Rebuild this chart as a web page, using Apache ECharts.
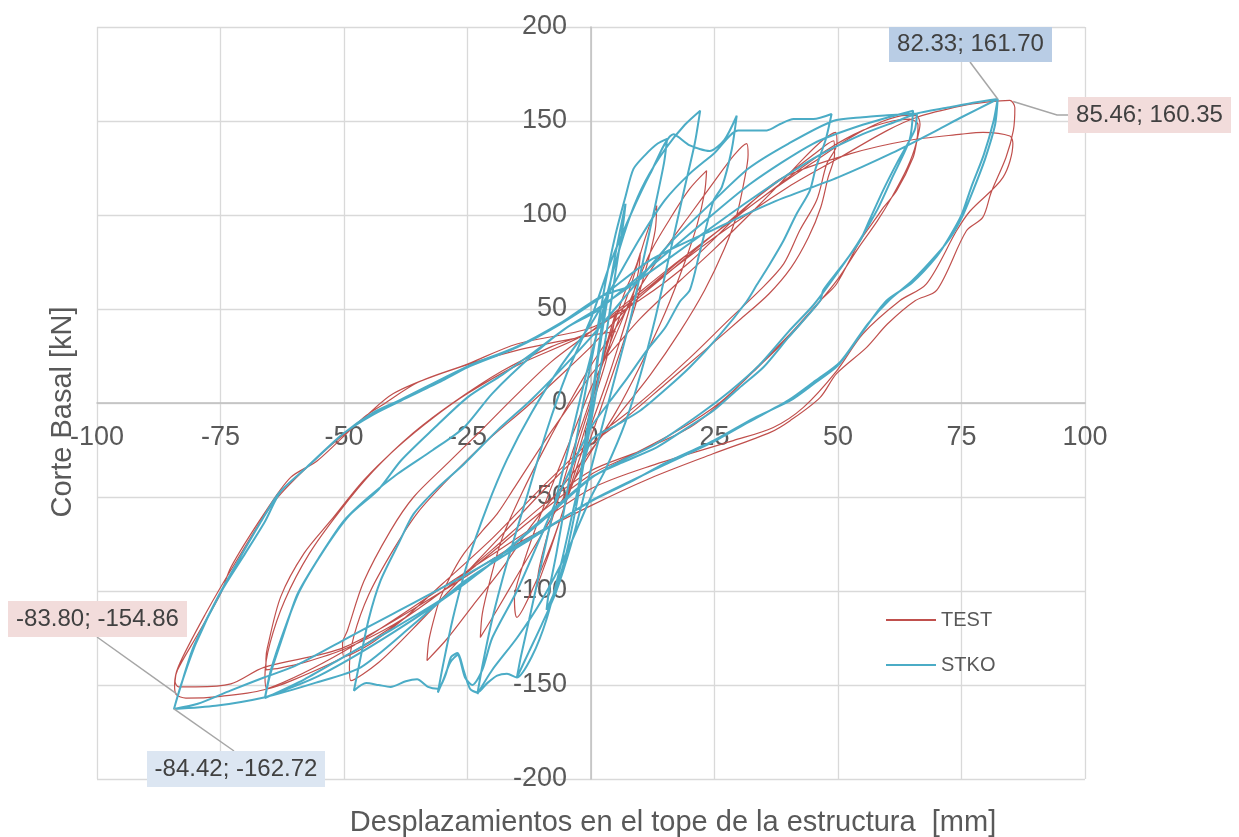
<!DOCTYPE html>
<html><head><meta charset="utf-8">
<script src="https://cdn.jsdelivr.net/npm/echarts@6/dist/echarts.min.js"></script>
<style>html,body{margin:0;padding:0;background:#fff}#c{width:1239px;height:837px}</style>
</head><body><div id="c"></div>
<script>
// ---------- DATA ----------
var xTicks = [-100,-75,-50,-25,0,25,50,75,100];
var yTicks = [-200,-150,-100,-50,0,50,100,150,200];
var seriesNames = ['TEST','STKO'];

// TEST (experimental) hysteresis, [displacement mm, base shear kN]
var testSmall = [[0,0],[1.5,15],[3,30],[5,48],[4.5,40],[3,22],[1,5],[-1,-12],[-3,-30],[-5,-50],[-4.5,-42],[-3,-25],[-1,-8],[1,8],
[3,28],[5,45],[7,60],[9,72],[10,80],[9.6,70],[8,52],[5.5,30],[3,10],[0,-12],[-3,-35],[-6,-60],[-8.5,-80],[-11,-98],[-10.5,-88],[-9,-72],[-6.5,-50],[-4,-28],[-1,-5],[2,18],
[5,40],[8,62],[11,88],[13.3,105],[13,92],[11.5,75],[9,52],[6,28],[3,5],[0,-18],[-4,-45],[-8,-75],[-12,-100],[-15,-114],[-15.5,-104],[-14,-88],[-11,-65],[-7,-38],[-3,-12],[0,8],
[4,30],[8,55],[12,80],[16,98],[20,114],[23.4,123.6],[23,112],[21.5,95],[19,75],[15,48],[10,20],[5,-5],[0,-26],[-5,-48],[-10,-70],[-15,-92],[-19,-110],[-22.4,-124.7],[-22,-112],[-20.5,-95],[-18,-72],[-14,-48],[-9,-22],[-4,2],[0,20]];
var test31 = [[5,40],[10,62],[15,82],[20,100],[25,118],[29,132],[31.5,138],[31.8,132],[31,118],[29.5,100],[27,82],[23,60],[18,38],[12,15],[6,-5],[0,-25],[-6,-45],[-12,-65],[-18,-88],[-24,-108],[-29,-125],[-33.2,-137],[-32.8,-126],[-31.5,-112],[-30.4,-103],[-28,-90],[-25.7,-80],[-22,-68],[-19,-59],[-15.5,-45],[-12.3,-32],[-8,-15],[-4,0],[0,15]];
var test49 = [[5,30],[10,45],[18,65],[25,82],[32,100],[38,116],[43,130],[47,140],[49.5,144],[49.8,138],[47.7,127],[45.7,108],[42.3,92],[39,74],[34.2,60],[28.2,45],[20,24],[12,5],[6,-8],[0,-20],[-10,-45],[-20,-72],[-30,-96],[-38,-115],[-44,-127],[-48,-133],[-50,-135],[-50.3,-128],[-49.3,-121],[-46,-95],[-40.6,-68],[-35.9,-50],[-29,-32],[-22.4,-15],[-15.6,3],[-8,22],[0,38],
[8,55],[16,72],[25,90],[33,108],[40,122],[45,132],[48,138],[49.2,139.5],[49.3,132],[48,120],[46.5,104],[44,88],[40.5,72],[36,58],[30,44],[23,28],[15,10],[7,-8],[0,-22],[-8,-42],[-18,-70],[-28,-98],[-36,-120],[-43,-138],[-48.6,-147.7],[-48.9,-140],[-48,-124],[-45,-102],[-40,-78],[-35,-58],[-28,-38],[-21,-20],[-13,-2],[-6,15],[0,30]];
var test66 = [[8,52],[16,70],[25,90],[35,110],[45,128],[52.4,141],[59.2,150],[63.9,153],[65.9,152.8],[66.6,148.4],[66,140],[65.2,130.6],[61.9,113],[59.2,104],[57.8,98.7],[54.4,86],[49.7,63.3],[46.4,54.4],[40.3,36.7],[33.6,19],[26.8,1.2],[20,-13],[10,-25.4],[0,-36],[-10,-55],[-20,-78],[-30,-100],[-40,-118],[-50,-131],[-58,-138],[-63,-141],[-65.8,-142],[-65.8,-136],[-65.5,-130],[-62.8,-103],[-58.1,-80],[-52.7,-62.6],[-46,-41],[-39.2,-23.6],[-32,-8],[-25,5],[-15,20],[0,38],
[10,58],[20,80],[30,100],[40,120],[48,135],[55,145],[61,150],[64.5,151],[66.2,148],[65.8,138],[64,125],[61,110],[58,97],[54,82],[50,66],[46,53],[40,35],[33,17],[26,0],[18,-14],[8,-28],[0,-38],[-12,-62],[-25,-90],[-38,-115],[-50,-135],[-60,-147],[-65.6,-152],[-66,-145],[-65,-128],[-62,-105],[-57,-80],[-51,-58],[-44,-36],[-36,-16],[-28,0],[-18,17],[-8,30],[0,38]];
var test85 = [[10,58],[25,88],[40,115],[50,130],[60,145],[66,152],[75,158],[80,160],[84.8,161],[85.8,157],[85.5,145],[84,130.6],[81,112],[79.3,98.7],[76,91.6],[70,60],[65.6,54.4],[60,42],[55.8,29.6],[49.7,15.6],[46.4,3],[40.3,-9.4],[36.3,-15.6],[24.7,-27],[12,-40],[0,-54.6],[-15,-75],[-30,-100],[-50,-130],[-66.2,-140.6],[-72.9,-149.4],[-80,-151],[-83.5,-151],[-84.2,-148],[-83.7,-142],[-79.6,-123],[-74.9,-101],[-72.9,-87.4],[-66.2,-59],[-60.8,-39.6],[-55.4,-30.7],[-46,-7.7],[-41.9,-0.5],[-35,11],[-25,20.7],[-15,31.4],[0,40],
[10,55],[20,75],[32.2,106],[38.9,120],[52.4,132.5],[63.9,139.5],[75,143],[79.4,144],[84.8,142],[85.4,138],[83.4,120],[76.7,102],[74,91.6],[67.9,63.4],[62.5,54.4],[55,36.7],[49.7,17],[43,-2.3],[36.9,-13],[28.8,-20],[13.3,-32.4],[0,-45.6],[-15,-72],[-30,-98],[-50,-132],[-65.6,-152],[-75,-156],[-82,-157],[-84,-155],[-84.3,-150],[-83.5,-140],[-78,-112],[-72,-85],[-64,-52],[-55,-28],[-46,-8],[-40,5],[-30,16],[-15,28],[0,36],[5,38]];

// STKO (numerical model) hysteresis
var stkoSmall = [[0,0],[1,18],[2,38],[3,55],[2.5,45],[1,15],[0,-5],[-1,-22],[-2,-40],[-3,-55],[-2.5,-45],[-1,-18],[0,0],
[1.5,25],[3,50],[5,80],[7,106],[6.5,95],[5,70],[3,35],[1,5],[-1,-25],[-3,-55],[-5,-80],[-7,-98],[-9,-110],[-8.5,-100],[-7,-80],[-5,-50],[-3,-20],[-1,8],[1,35],
[3,65],[5,90],[7,110],[8.6,124.5],[11,132],[13.5,138],[15.4,140.5],[14.8,128],[13,105],[10.5,75],[8,45],[5,15],[2,-15],[-1,-45],[-4,-75],[-7,-100],[-10,-118],[-12.5,-132],[-15,-146],[-14.2,-135],[-12.5,-115],[-10,-85],[-7,-50],[-4,-18],[-1,15],[2,45],
[5,75],[8,100],[11,118],[15,135],[19,148],[22.1,155.5],[21,138],[19,115],[16,80],[13,45],[10,15],[7,-10],[3,-35],[0,-50],[-5,-80],[-10,-105],[-15,-125],[-20,-142],[-23,-154.8],[-22,-140],[-20,-115],[-17,-85],[-13,-50],[-9,-15],[-5,15],[0,45],[4,75],[8,100],[12,122],[16.7,143],[20,137],[24,134],[27,140],[29.5,152.8],
[28.5,135],[26.5,115],[24.8,107.6],[22,80],[20,60],[18,54],[15,40],[11.3,28],[7,12],[3.9,1.2],[0,-13],[-5,-40],[-10,-70],[-15,-100],[-20,-125],[-22,-142],[-24,-150],[-25.5,-146],[-27,-134],[-28.5,-138],[-30,-148],[-31,-154],
[-30,-140],[-28,-115],[-25,-85],[-21,-55],[-17,-30],[-12,-5],[-6,20],[0,42],[5,65],[10,88],[15,108],[20,122],[25,133],[29.8,145],[35.6,145],[38.3,148.4],[41,151],[45,151],[48.7,153.7]];
var stko49 = [[47.5,140],[45.5,125],[44.3,113],[41.5,100],[38.9,86],[36,73],[33.6,63],[31.5,54],[26,36],[20,19],[15,7],[10,-4],[5,-12],[0,-20],[-3,-50],[-6,-85],[-9,-115],[-12,-135],[-15,-146],[-17,-144],[-19,-145],[-21,-149],[-23,-154],[-24.5,-152],[-25.8,-142],[-27,-133],[-28.3,-135],[-29.5,-145],[-31,-152],[-33,-151],[-35.2,-147],[-37.5,-148],[-40.6,-151],[-43,-150],[-45.5,-149],[-48,-153],
[-47,-140],[-45,-115],[-42.6,-94.5],[-39,-75],[-35.9,-59],[-31,-45],[-25.7,-32.4],[-19,-14.7],[-12.3,1.2],[-6,18],[0,35],[8,60],[16,85],[25,108],[32,125],[40,138],[49,150],[55,152],[60,153],[66,154]];
var stko66 = [[65.5,145],[62,128],[59.1,113],[56.5,98],[54.4,86],[50.5,72],[47,60],[46.4,54.4],[40,35],[34.9,19],[30,8],[24.8,-4],[19,-14],[13.3,-23.6],[6,-32],[0,-39.6],[-10,-62],[-20,-85],[-30,-104],[-40,-120],[-50,-135],[-58,-147],[-66,-157],
[-65,-145],[-62.5,-125],[-59.4,-101.6],[-55,-82],[-50,-62.6],[-45,-50],[-39.2,-37.8],[-32,-25],[-25.7,-13],[-20,5],[-11.6,26],[-5,40],[1.2,49],[10,68],[20,90],[32.2,116.5],[45,138],[55,148],[65.2,155.5],
[64.5,140],[61,120],[58,103],[54,85],[49,66],[45,52],[40,38],[34,20],[28,6],[22,-6],[13,-22],[6,-31],[0,-40],[-10,-63],[-25,-95],[-40,-122],[-55,-145],[-66,-156.6],
[-64.8,-142],[-62,-120],[-59,-100],[-54,-78],[-49,-60],[-43,-46],[-38.5,-30.7],[-32,-14],[-25,3],[-18,15],[-11.6,27],[-5,40],[1.2,50],[10,66],[20,85],[32.2,108],[45,130],[55,143],[62,150],[66,154]];
var stko82 = [[72,157],[78,160],[82.33,161.7],
[81.5,150],[79.5,132],[77,115],[75,100],[72.5,88],[70,78],[65,64],[59.8,54.4],[55,38],[50,20],[45,10],[40.3,1.2],[33,-8],[24.8,-20],[15,-32],[8,-42],[0,-52.3],[-10,-68],[-25.7,-92],[-40,-112],[-50,-126],[-60,-140],[-66.2,-146],[-73,-153],[-79.6,-160],[-84.42,-162.72],
[-83,-150],[-80,-128],[-75,-101],[-70,-80],[-66,-63],[-62.8,-47],[-57,-33],[-50,-16],[-44,-6],[-38.5,1.2],[-30,12],[-25,19],[-15,29.6],[-6.2,42],[1.9,56],[12,76],[25,92.5],[37,107],[50,120],[61,133],[70,145],[75,152],[82.33,161.7],
[81.8,148],[79.8,130],[77.5,114],[75.3,100],[73,89],[70,79],[65,65],[60.5,55],[56,42],[50.5,22],[45,11],[40,1.5],[32,-10],[24.5,-21],[14,-34],[0,-52],[-12,-72],[-25.7,-95],[-36,-118],[-46.6,-140.6],[-56,-149],[-66.2,-156.6],[-76,-161],[-84.42,-162.72],
[-83.2,-152],[-80.5,-130],[-75.5,-103],[-71,-82],[-67,-64],[-63.2,-48],[-57.5,-34],[-50.5,-17],[-44,-5],[-38.5,1.8],[-25,19.5],[-15,30],[-6.2,42.5],[1.9,56.5],[8,62]];

// peak annotations: [x, y, label]
var testPeakPos = [85.46, 160.35, '85.46; 160.35'];
var testPeakNeg = [-83.80, -154.86, '-83.80; -154.86'];
var stkoPeakPos = [82.33, 161.70, '82.33; 161.70'];
var stkoPeakNeg = [-84.42, -162.72, '-84.42; -162.72'];

var xTitle = 'Desplazamientos en el tope de la estructura  [mm]';
var yTitle = 'Corte Basal [kN]';

// ---------- CHART ----------
var testData = [].concat(testSmall, test31, test49, test66, test85);
var stkoData = [].concat(stkoSmall, stko49, stko66, stko82);
var FONT = '"Liberation Sans", Arial, sans-serif';
var W = 1239, H = 837;
var G = {left:97, right:154, top:27, bottom:58};
var gW = W - G.left - G.right, gH = H - G.top - G.bottom;
var xMin = xTicks[0], xMax = xTicks[xTicks.length-1], yMin = yTicks[0], yMax = yTicks[yTicks.length-1];
// move axis lines (and their labels) onto the zero lines
var xAxisOffset = -gH * (0 - yMin) / (yMax - yMin);
var yAxisOffset = -gW * (0 - xMin) / (xMax - xMin);

var chart = echarts.init(document.getElementById('c'), null, {renderer:'canvas'});
chart.setOption({
  animation:false,
  backgroundColor:'#fff',
  grid:{left:G.left, right:G.right, top:G.top, bottom:G.bottom, containLabel:false},
  xAxis:{type:'value', min:xMin, max:xMax, interval:25, position:'bottom', offset:xAxisOffset,
    axisLine:{onZero:false, lineStyle:{color:'#BFBFBF', width:1.5}},
    axisTick:{show:false},
    axisLabel:{margin:21, fontSize:27, color:'#595959', fontFamily:FONT},
    splitLine:{show:true, lineStyle:{color:'#D9D9D9', width:1.3}}},
  yAxis:{type:'value', min:yMin, max:yMax, interval:50, position:'left', offset:yAxisOffset,
    axisLine:{onZero:false, lineStyle:{color:'#BFBFBF', width:1.5}},
    axisTick:{show:false},
    axisLabel:{margin:24, fontSize:27, color:'#595959', fontFamily:FONT},
    splitLine:{show:true, lineStyle:{color:'#D9D9D9', width:1.3}}},
  legend:{data:seriesNames, orient:'vertical', left:881, top:603, icon:'rect', itemWidth:50, itemHeight:2, itemGap:21,
    textStyle:{fontSize:20, color:'#595959', fontFamily:FONT, lineHeight:24}},
  series:[
    {name:seriesNames[0], type:'line', data:testData, showSymbol:false, symbol:'none', smooth:0.3,
      lineStyle:{color:'#C0504D', width:1.2}, itemStyle:{color:'#C0504D'}, z:2},
    {name:seriesNames[1], type:'line', data:stkoData, showSymbol:false, symbol:'none', smooth:0.25,
      lineStyle:{color:'#4BACC6', width:2}, itemStyle:{color:'#4BACC6'}, z:3}
  ]
});

function px(p){ return chart.convertToPixel({gridIndex:0}, [p[0], p[1]]); }
function box(x,y,w,h,fill,text){
  return [{type:'rect', shape:{x:x,y:y,width:w,height:h}, style:{fill:fill}, z:20},
          {type:'text', x:x+w/2, y:y+h/2, style:{text:text, fill:'#404040', font:'24px '+FONT, align:'center', verticalAlign:'middle'}, z:21}];
}
var gray = '#A6A6A6';
var pTP = px(testPeakPos), pTN = px(testPeakNeg), pSP = px(stkoPeakPos), pSN = px(stkoPeakNeg);
var g = [];
g.push({type:'polyline', shape:{points:[[970,62],pSP]}, style:{stroke:gray, lineWidth:1.5, fill:null}, z:19});
g.push({type:'polyline', shape:{points:[pTP,[1057,115],[1068,115]]}, style:{stroke:gray, lineWidth:1.5, fill:null}, z:19});
g.push({type:'polyline', shape:{points:[[97,637],pTN]}, style:{stroke:gray, lineWidth:1.5, fill:null}, z:19});
g.push({type:'polyline', shape:{points:[[234,751],pSN]}, style:{stroke:gray, lineWidth:1.5, fill:null}, z:19});
g = g.concat(box(889,27,163,35,'#B9CDE5',stkoPeakPos[2]));
g = g.concat(box(1068,97,163,36,'#F2DCDB',testPeakPos[2]));
g = g.concat(box(8,601,179,36,'#F2DCDB',testPeakNeg[2]));
g = g.concat(box(147,751,178,36,'#DCE6F2',stkoPeakNeg[2]));
g.push({type:'text', x:673, y:823, style:{text:xTitle, fill:'#595959', font:'29px '+FONT, align:'center', verticalAlign:'middle'}, z:10});
g.push({type:'text', x:63, y:412, rotation:Math.PI/2, style:{text:yTitle, fill:'#595959', font:'29px '+FONT, align:'center', verticalAlign:'middle'}, z:10});
chart.setOption({graphic:g});
</script></body></html>
